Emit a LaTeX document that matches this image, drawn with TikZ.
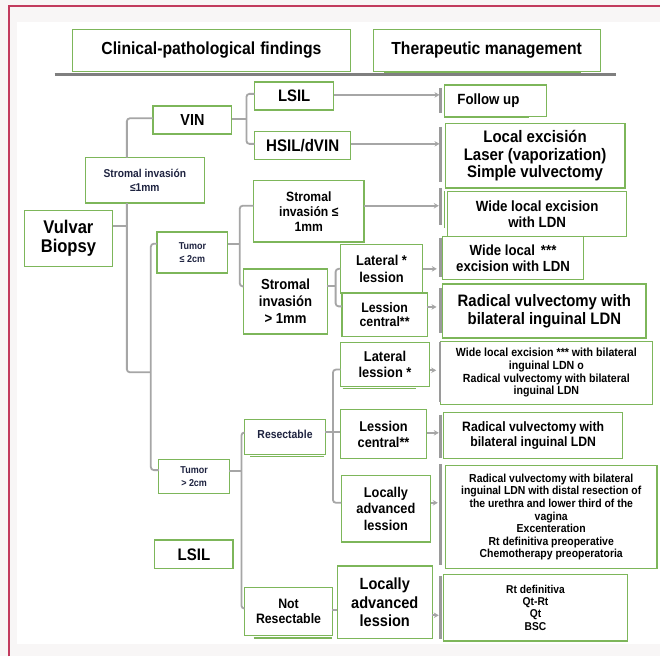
\documentclass[tikz,border=0pt]{standalone}
\usepackage{fontspec}
\setmainfont{Liberation Sans}[FakeStretch=0.9]
\usetikzlibrary{arrows.meta}
\definecolor{boxgreen}{HTML}{7DB65A}
\definecolor{conngrey}{HTML}{A6A6A6}
\definecolor{bargrey}{HTML}{9A9A9A}
\definecolor{rulegrey}{HTML}{7F7F7F}
\definecolor{frame}{HTML}{C23B5E}
\definecolor{outerbg}{HTML}{F8F6F6}
\definecolor{smalltext}{HTML}{1E2340}
\newcommand\fz[2]{\fontsize{#1}{#2}\selectfont\bfseries}
\begin{document}
\begin{tikzpicture}[x=1pt,y=-1pt,
  box/.style={draw=boxgreen, line width=1.3pt, fill=white, inner sep=0pt, outer sep=0pt, align=center, text=black},
  conn/.style={draw=conngrey, line width=1.8pt, rounded corners=3pt},
  arr/.style={draw=conngrey, line width=1.8pt, -{Stealth[length=5pt,width=5.5pt]}},
  bar/.style={draw=bargrey, line width=2.6pt},
  ghost/.style={draw=boxgreen, line width=1.3pt},
]
% background
\fill[outerbg] (0,0) rectangle (661,657);
\fill[white] (17,22) rectangle (661,645);
\draw[frame, line width=1.5pt] (9,657) -- (9,6) -- (661,6);
\useasboundingbox (0,0) rectangle (661,657);

% headers
\node[box, line width=1pt, minimum width=278.3pt, minimum height=42.4pt, font={\fz{17.5}{20}}] (hA) at (211.65,50.5) {\raisebox{3.5pt}{Clinical-pathological\hspace{5pt}findings}};
\node[box, line width=1pt, minimum width=227.3pt, minimum height=42.4pt, font={\fz{17.5}{20}}] (hB) at (487.15,50.5) {\raisebox{3.5pt}{Therapeutic management}};
\draw[ghost, line width=2.2pt] (384.5,72.3) -- (581.8,72.3);
\draw[rulegrey, line width=3pt] (54.8,75) -- (616.4,75);

% left / middle column nodes
\node[box, minimum width=88.4pt, minimum height=56pt, font={\fz{18.4}{19}}] (bio) at (68.5,238.7) {Vulvar\\Biopsy};
\node[box, minimum width=78.7pt, minimum height=28.3pt, font={\fz{16}{18}}] (vin) at (192.65,120.15) {VIN};
\node[box, minimum width=119.4pt, minimum height=45.6pt, font={\fz{11.4}{14.4}}, text=smalltext] (sle) at (145,180.5) {Stromal invasión\\≤1mm};
\node[box, minimum width=70.7pt, minimum height=41pt, font={\fz{10}{13.6}}, text=smalltext] (t1) at (192.65,252.8) {Tumor\\≤ 2cm};
\node[box, minimum width=70.7pt, minimum height=34.3pt, font={\fz{10}{12.3}}, text=smalltext] (t2) at (194.35,477.15) {Tumor\\> 2cm};
\node[box, minimum width=78.3pt, minimum height=28.6pt, font={\fz{16.7}{18}}] (lsilb) at (194.15,555) {LSIL};

\node[box, minimum width=79pt, minimum height=28pt, font={\fz{16.6}{18}}] (lsil) at (294.5,96) {LSIL};
\node[box, minimum width=96pt, minimum height=28.3pt, font={\fz{16.8}{18}}] (hsil) at (303,145.85) {HSIL/dVIN};
\node[box, minimum width=110.3pt, minimum height=61.3pt, font={\fz{13.5}{14.8}}] (smid) at (309.15,211.65) {Stromal\\invasión ≤\\1mm};
\node[box, minimum width=83.7pt, minimum height=65pt, font={\fz{14.6}{17}}] (sgt) at (285.85,301.8) {Stromal\\invasión\\> 1mm};
\node[box, minimum width=82.6pt, minimum height=48.3pt, font={\fz{14.3}{17.4}}] (lat1) at (382,269.15) {Lateral *\\lession};
\node[box, minimum width=85.4pt, minimum height=43.4pt, font={\fz{13.7}{14.3}}] (lc1) at (385,315) {Lession\\central**};
\node[box, minimum width=80.7pt, minimum height=35pt, font={\fz{11.6}{13}}, text=smalltext] (res) at (285.35,437.5) {\raisebox{4.5pt}{Resectable}};
\node[box, minimum width=87.7pt, minimum height=47.7pt, font={\fz{13.7}{14.6}}] (nr) at (288.85,612.15) {Not\\Resectable};
\node[box, minimum width=89pt, minimum height=44pt, font={\fz{14.3}{15.7}}] (lat2) at (385.5,364.7) {Lateral\\lession *};
\node[box, minimum width=86.3pt, minimum height=49pt, font={\fz{14.2}{16}}] (lc2) at (384,434.5) {Lession\\central**};
\node[box, minimum width=89.3pt, minimum height=66.7pt, font={\fz{14.2}{16.3}}] (la1) at (386.35,509.35) {Locally\\advanced\\lession};
\node[box, minimum width=95pt, minimum height=72.6pt, font={\fz{16.2}{18.5}}] (la2) at (385.2,603) {Locally\\advanced\\lession};

% right column nodes
\node[box, minimum width=102pt, minimum height=31.7pt, font={\fz{14.8}{16}}] (fu) at (496,100.85) {Follow up\hspace{14pt}};
\node[box, minimum width=180pt, minimum height=65pt, font={\fz{16.7}{17.2}}] (le) at (535.7,155.8) {Local excisión\\Laser (vaporization)\\Simple vulvectomy};
\node[box, minimum width=179pt, minimum height=45pt, font={\fz{14.8}{16.3}}] (wl) at (537.8,214.2) {Wide local excision\\with LDN};
\node[box, minimum width=140.7pt, minimum height=43.3pt, font={\fz{14.7}{16.3}}] (w3) at (513.65,258.35) {Wide local\hspace{6pt}***\\excision with LDN};
\node[box, minimum width=203.4pt, minimum height=54pt, font={\fz{16.6}{18.4}}] (rad1) at (545,311.3) {Radical vulvectomy with\\bilateral inguinal LDN};
\node[box, minimum width=212.6pt, minimum height=63.3pt, font={\fz{11.8}{12.7}}] (wbil) at (547,373.35) {Wide local excision *** with bilateral\\inguinal LDN o\\Radical vulvectomy with bilateral\\inguinal LDN};
\node[box, minimum width=179pt, minimum height=45.7pt, font={\fz{13.6}{14.3}}] (rad2) at (533.8,436.15) {Radical vulvectomy with\\bilateral inguinal LDN};
\node[box, minimum width=211.7pt, minimum height=103.3pt, font={\fz{11.6}{12.55}}] (big) at (551.85,517.65) {Radical vulvectomy with bilateral\\inguinal LDN with distal resection of\\the urethra and lower third of the\\vagina\\Excenteration\\Rt definitiva preoperative\\Chemotherapy preoperatoria};
\node[box, minimum width=184.3pt, minimum height=66.7pt, font={\fz{11.4}{12.3}}] (rt) at (536.15,608.35) {Rt definitiva\\Qt-Rt\\Qt\\BSC};

% ghost (double) edges
\draw[ghost] (445,117.6) -- (530,117.6);
\draw[ghost] (445,191.7) -- (445,228);
\draw[ghost] (250.7,457.2) -- (324.3,457.2);
\draw[ghost] (343,388.6) -- (416,388.6);
\draw[ghost] (254,638.6) -- (332,638.6);

% spine x positions
\coordinate (xA) at (127,0);
\coordinate (xB) at (151,0);
\coordinate (xC) at (240,0);
\coordinate (xD) at (246.7,0);
\coordinate (xE) at (336,0);
\coordinate (xF) at (241.7,0);
\coordinate (xG) at (333.3,0);
\coordinate (jA) at (127,372.7);

% connection points
\path ([yshift=12.7pt]bio.east) coordinate (bioO);
\path ([yshift=1.7pt]vin.west) coordinate (vinI);
\path ([yshift=0.7pt]vin.east) coordinate (vinO);
\path ([yshift=8.8pt]t1.west) coordinate (t1I);
\path ([yshift=8.5pt]t1.east) coordinate (t1O);
\path ([yshift=6.5pt]t2.west) coordinate (t2I);
\path ([yshift=5.5pt]t2.east) coordinate (t2O);
\path ([yshift=2pt]lsil.west) coordinate (lsI);
\path ([yshift=1.8pt]hsil.west) coordinate (hsI);
\path ([yshift=5.7pt]smid.west) coordinate (smI);
\path ([yshift=15.1pt]sgt.west) coordinate (sgI);
\path ([yshift=15.1pt]sgt.east) coordinate (sgO);
\path (lat1.west) coordinate (l1I);
\path ([yshift=8.3pt]lc1.west) coordinate (c1I);
\path ([yshift=4.5pt]res.west) coordinate (rsI);
\path ([yshift=4.8pt]res.east) coordinate (rsO);
\path ([yshift=2.9pt]nr.west) coordinate (nrI);
\path ([yshift=1.5pt]nr.east) coordinate (nrO);
\path ([yshift=-5.3pt]lat2.west) coordinate (l2I);
\path ([yshift=1.8pt]lc2.west) coordinate (c2I);
\path ([yshift=6pt]la1.west) coordinate (a1I);

% connectors
\draw[conn] (vinI) -| (xA |- sle.north);
\draw[conn] (xA |- sle.south) -- (jA) -- (jA -| xB);
\draw[conn] (bioO) -- (bioO -| xA);
\draw[conn] (t1I) -| (xB |- t2I) -- (t2I);
\draw[conn] (smI) -| (xC |- sgI) -- (sgI);
\draw[conn] (t1O) -- (t1O -| xC);
\draw[conn] (lsI) -| (xD |- hsI) -- (hsI);
\draw[conn] (vinO) -- (vinO -| xD);
\draw[conn] (l1I) -| (xE |- c1I) -- (c1I);
\draw[conn] (sgO) -- (sgO -| xE);
\draw[conn] (rsI) -| (xF |- nrI) -- (nrI);
\draw[conn] (t2O) -- (t2O -| xF);
\draw[conn] (l2I) -| (xG |- a1I) -- (a1I);
\draw[conn] (c2I) -- (c2I -| xG);
\draw[conn] (rsO) -- (rsO -| xG);
\draw[conn] (nrO) -- (nrO -| la2.west);

% arrows
\path ([yshift=1pt]lsil.east) coordinate (p1);
\path ([yshift=1.85pt]hsil.east) coordinate (p2);
\path ([yshift=5.65pt]smid.east) coordinate (p3);
\path (lat1.east) coordinate (p4);
\path ([yshift=7.7pt]lc1.east) coordinate (p5);
\path ([yshift=-6pt]lat2.east) coordinate (p6);
\path ([yshift=1.2pt]lc2.east) coordinate (p7);
\path ([yshift=6pt]la1.east) coordinate (p8);
\path ([yshift=-13pt]la2.east) coordinate (p9);
\draw[arr, shorten >=5pt] (p1) -- (p1 -| fu.west);
\draw[arr, shorten >=5.7pt] (p2) -- (p2 -| le.west);
\draw[arr, shorten >=9pt] (p3) -- (p3 -| wl.west);
\draw[arr, shorten >=6pt] (p4) -- (p4 -| w3.west);
\draw[arr, shorten >=6.3pt] (p5) -- (p5 -| rad1.west);
\draw[arr, shorten >=4pt] (p6) -- (p6 -| wbil.west);
\draw[arr, shorten >=5pt] (p7) -- (p7 -| rad2.west);
\draw[arr, shorten >=7.7pt] (p8) -- (p8 -| big.west);
\draw[arr, shorten >=4.7pt] (p9) -- (p9 -| rt.west);

% bars before the right column
\draw[bar] (440.7,88) -- (440.7,113);
\draw[bar] (440.7,127) -- (440.7,182);
\draw[bar] (440.7,188) -- (440.7,225);
\draw[bar] (440.7,238.3) -- (440.7,277.3);
\draw[bar] (440.7,288.3) -- (440.7,333.3);
\draw[bar, line width=1.6pt] (440.7,342) -- (440.7,402);
\draw[bar] (440.7,415) -- (440.7,458.3);
\draw[bar] (440.7,465) -- (440.7,566);
\draw[bar] (440.7,577) -- (440.7,640);
\end{tikzpicture}
\end{document}
